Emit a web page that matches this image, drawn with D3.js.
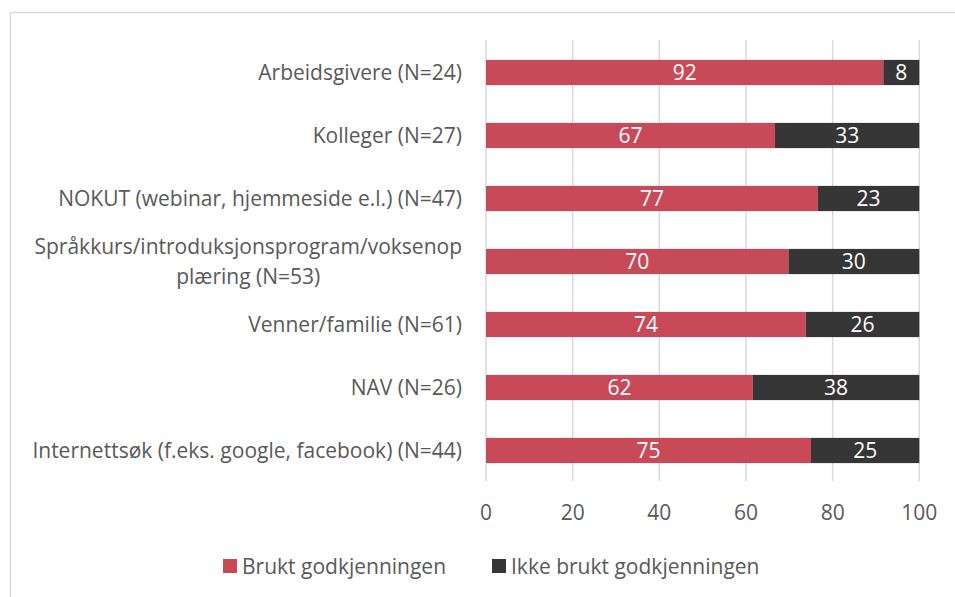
<html>
  <head>
    <meta charset="utf-8">
    <title>Brukt godkjenningen</title>
    <style type="text/css">
      body { margin: 0; background: #fff; }
      .chart text { font-family: "Open Sans", "Noto Sans", sans-serif; }
    </style>
    <script src="https://d3js.org/d3.v7.min.js"></script>
  </head>
  <body>
    <svg class="chart" width="955" height="597"></svg>
    <script>

// categories, top to bottom
var categories = [
  "Arbeidsgivere (N=24)",
  "Kolleger (N=27)",
  "NOKUT (webinar, hjemmeside e.l.) (N=47)",
  "Språkkurs/introduksjonsprogram/voksenop|plæring (N=53)",
  "Venner/familie (N=61)",
  "NAV (N=26)",
  "Internettsøk (f.eks. google, facebook) (N=44)"
];

// percentages
var brukt = [91.7, 66.7, 76.6, 69.8, 73.8, 61.6, 75.0];
var ikkeBrukt = [8.3, 33.3, 23.4, 30.2, 26.2, 38.4, 25.0];

var seriesNames = ["Brukt godkjenningen", "Ikke brukt godkjenningen"];
var seriesColors = ["#c84a59", "#363636"];
var xTicks = [0, 20, 40, 60, 80, 100];

var fs = 21;

var svg = d3.select(".chart");

// light frame round the chart
svg.append("rect")
  .attr("x", 10.5).attr("y", 12.5)
  .attr("width", 960).attr("height", 600)
  .attr("fill", "none")
  .attr("stroke", "#d9d9d9")
  .attr("stroke-width", 1.5);

var x = d3.scaleLinear()
  .domain([0, 100])
  .range([486, 919.3]);

var y = d3.scaleBand()
  .domain(categories)
  .range([41, 482])
  .paddingInner(0.6)
  .paddingOuter(0.3);

// gridlines
svg.append("g")
  .selectAll("line")
  .data(xTicks)
  .join("line")
    .attr("x1", function(d) { return x(d); })
    .attr("x2", function(d) { return x(d); })
    .attr("y1", 40)
    .attr("y2", 481)
    .attr("stroke", "#d9d9d9")
    .attr("stroke-width", 1.5);

// tick labels
svg.append("g")
  .selectAll("text")
  .data(xTicks)
  .join("text")
    .attr("x", function(d) { return x(d); })
    .attr("y", 512)
    .attr("dy", "0.36em")
    .attr("text-anchor", "middle")
    .attr("font-size", fs)
    .attr("fill", "#595959")
    .text(function(d) { return d; });

// stack the two series
var rows = categories.map(function(c, i) {
  return { cat: c, vals: [brukt[i], ikkeBrukt[i]] };
});

rows.forEach(function(r) {
  var start = 0;
  r.vals.forEach(function(v, j) {
    svg.append("rect")
      .attr("x", x(start))
      .attr("y", y(r.cat))
      .attr("width", x(start + v) - x(start))
      .attr("height", y.bandwidth())
      .attr("fill", seriesColors[j]);
    svg.append("text")
      .attr("x", x(start + v / 2))
      .attr("y", y(r.cat) + y.bandwidth() / 2)
      .attr("dy", "0.36em")
      .attr("text-anchor", "middle")
      .attr("font-size", fs)
      .attr("fill", "#ffffff")
      .text(Math.round(v));
    start += v;
  });
});

// category labels (the long one wraps onto two centred lines)
rows.forEach(function(r) {
  var parts = r.cat.split("|");
  var cy = y(r.cat) + y.bandwidth() / 2;
  if (parts.length == 1) {
    svg.append("text")
      .attr("x", 462)
      .attr("y", cy)
      .attr("dy", "0.36em")
      .attr("text-anchor", "end")
      .attr("font-size", fs)
      .attr("fill", "#595959")
      .text(parts[0]);
  } else {
    var first = svg.append("text")
      .attr("x", 462)
      .attr("y", cy - 15)
      .attr("dy", "0.36em")
      .attr("text-anchor", "end")
      .attr("font-size", fs)
      .attr("fill", "#595959")
      .text(parts[0]);
    var mid = 462 - first.node().getComputedTextLength() / 2;
    svg.append("text")
      .attr("x", mid)
      .attr("y", cy + 15)
      .attr("dy", "0.36em")
      .attr("text-anchor", "middle")
      .attr("font-size", fs)
      .attr("fill", "#595959")
      .text(parts[1]);
  }
});

// legend
var legendX = [223, 492];
seriesNames.forEach(function(name, j) {
  svg.append("rect")
    .attr("x", legendX[j])
    .attr("y", 559)
    .attr("width", 14)
    .attr("height", 14)
    .attr("fill", seriesColors[j]);
  svg.append("text")
    .attr("x", legendX[j] + 19)
    .attr("y", 566)
    .attr("dy", "0.36em")
    .attr("font-size", fs)
    .attr("fill", "#595959")
    .text(name);
});

</script>
  </body>
</html>
